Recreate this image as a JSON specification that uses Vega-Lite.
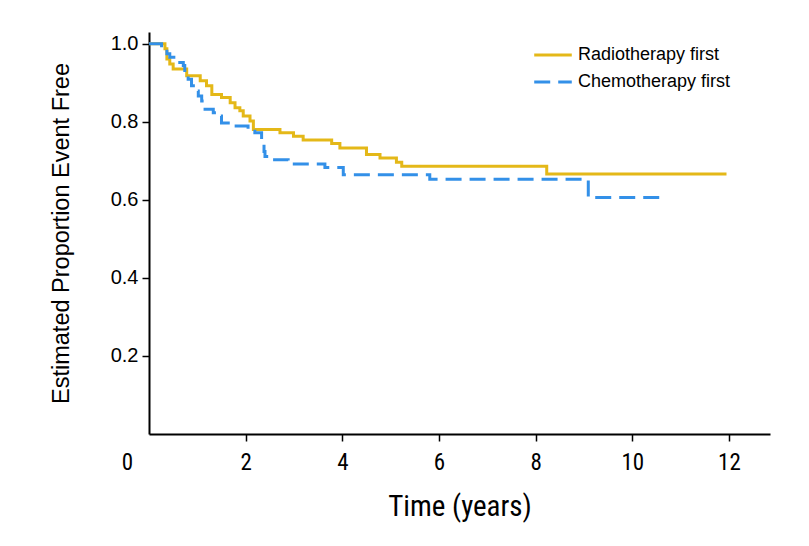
{
  "$schema": "https://vega.github.io/schema/vega-lite/v6.json",
  "width": 621,
  "height": 402,
  "autosize": {"type": "none"},
  "padding": {"left": 149, "top": 32, "right": 39, "bottom": 112},
  "background": "white",
  "config": {"view": {"stroke": null}},
  "data": {
    "values": [
      {"group": "Radiotherapy first", "t": 0, "s": 1.0},
      {"group": "Radiotherapy first", "t": 0.33, "s": 0.987},
      {"group": "Radiotherapy first", "t": 0.37, "s": 0.961},
      {"group": "Radiotherapy first", "t": 0.43, "s": 0.948},
      {"group": "Radiotherapy first", "t": 0.50, "s": 0.935},
      {"group": "Radiotherapy first", "t": 0.78, "s": 0.918},
      {"group": "Radiotherapy first", "t": 1.06, "s": 0.905},
      {"group": "Radiotherapy first", "t": 1.19, "s": 0.892},
      {"group": "Radiotherapy first", "t": 1.30, "s": 0.870},
      {"group": "Radiotherapy first", "t": 1.50, "s": 0.862},
      {"group": "Radiotherapy first", "t": 1.68, "s": 0.849},
      {"group": "Radiotherapy first", "t": 1.78, "s": 0.836},
      {"group": "Radiotherapy first", "t": 1.88, "s": 0.828},
      {"group": "Radiotherapy first", "t": 1.95, "s": 0.815},
      {"group": "Radiotherapy first", "t": 2.09, "s": 0.802},
      {"group": "Radiotherapy first", "t": 2.16, "s": 0.780},
      {"group": "Radiotherapy first", "t": 2.71, "s": 0.772},
      {"group": "Radiotherapy first", "t": 2.99, "s": 0.763},
      {"group": "Radiotherapy first", "t": 3.19, "s": 0.753},
      {"group": "Radiotherapy first", "t": 3.78, "s": 0.744},
      {"group": "Radiotherapy first", "t": 3.95, "s": 0.733},
      {"group": "Radiotherapy first", "t": 4.50, "s": 0.716},
      {"group": "Radiotherapy first", "t": 4.78, "s": 0.707},
      {"group": "Radiotherapy first", "t": 5.12, "s": 0.696},
      {"group": "Radiotherapy first", "t": 5.23, "s": 0.686},
      {"group": "Radiotherapy first", "t": 8.23, "s": 0.666},
      {"group": "Radiotherapy first", "t": 11.95, "s": 0.666},
      {"group": "Chemotherapy first", "t": 0, "s": 1.0},
      {"group": "Chemotherapy first", "t": 0.26, "s": 0.995},
      {"group": "Chemotherapy first", "t": 0.33, "s": 0.987},
      {"group": "Chemotherapy first", "t": 0.37, "s": 0.974},
      {"group": "Chemotherapy first", "t": 0.43, "s": 0.965},
      {"group": "Chemotherapy first", "t": 0.57, "s": 0.952},
      {"group": "Chemotherapy first", "t": 0.71, "s": 0.944},
      {"group": "Chemotherapy first", "t": 0.74, "s": 0.922},
      {"group": "Chemotherapy first", "t": 0.81, "s": 0.909},
      {"group": "Chemotherapy first", "t": 0.88, "s": 0.892},
      {"group": "Chemotherapy first", "t": 0.95, "s": 0.879},
      {"group": "Chemotherapy first", "t": 1.02, "s": 0.866},
      {"group": "Chemotherapy first", "t": 1.09, "s": 0.853},
      {"group": "Chemotherapy first", "t": 1.16, "s": 0.832},
      {"group": "Chemotherapy first", "t": 1.33, "s": 0.823},
      {"group": "Chemotherapy first", "t": 1.43, "s": 0.815},
      {"group": "Chemotherapy first", "t": 1.50, "s": 0.797},
      {"group": "Chemotherapy first", "t": 1.64, "s": 0.789},
      {"group": "Chemotherapy first", "t": 2.05, "s": 0.780},
      {"group": "Chemotherapy first", "t": 2.19, "s": 0.772},
      {"group": "Chemotherapy first", "t": 2.33, "s": 0.754},
      {"group": "Chemotherapy first", "t": 2.38, "s": 0.724},
      {"group": "Chemotherapy first", "t": 2.40, "s": 0.711},
      {"group": "Chemotherapy first", "t": 2.50, "s": 0.703},
      {"group": "Chemotherapy first", "t": 2.88, "s": 0.692},
      {"group": "Chemotherapy first", "t": 3.64, "s": 0.683},
      {"group": "Chemotherapy first", "t": 4.02, "s": 0.664},
      {"group": "Chemotherapy first", "t": 5.81, "s": 0.653},
      {"group": "Chemotherapy first", "t": 9.09, "s": 0.606},
      {"group": "Chemotherapy first", "t": 10.71, "s": 0.606}
    ]
  },
  "mark": {"type": "line", "interpolate": "step-after", "strokeWidth": 3, "clip": true},
  "encoding": {
    "x": {
      "field": "t", "type": "quantitative",
      "scale": {"domain": [0, 12.85], "nice": false, "zero": false},
      "axis": {
        "title": "Time (years)",
        "values": [0, 2, 4, 6, 8, 10, 12],
        "format": "d",
        "grid": false,
        "domainColor": "black", "domainWidth": 2,
        "tickColor": {"condition": {"test": "datum.value === 0", "value": "transparent"}, "value": "black"},
        "tickWidth": 1.5, "tickSize": 7,
        "labelFont": "Liberation Sans Narrow, Roboto Condensed, DejaVu Sans Condensed, Roboto, sans-serif",
        "labelFontSize": 23, "labelColor": "black",
        "labelPadding": 10,
        "labelFlush": false,
        "labelOffset": {"condition": {"test": "datum.value === 0", "value": -22}, "value": 0},
        "titleFont": "Liberation Sans Narrow, Roboto Condensed, DejaVu Sans Condensed, Roboto, sans-serif",
        "titleFontSize": 29, "titleFontWeight": "normal", "titleColor": "black",
        "titlePadding": 18
      }
    },
    "y": {
      "field": "s", "type": "quantitative",
      "scale": {"domain": [0, 1.03], "nice": false, "zero": false},
      "axis": {
        "title": "Estimated Proportion Event Free",
        "values": [0.2, 0.4, 0.6, 0.8, 1.0],
        "format": ".1f",
        "grid": false,
        "domainColor": "black", "domainWidth": 2,
        "tickColor": "black", "tickWidth": 1.5, "tickSize": 7,
        "labelFont": "Liberation Sans", "labelFontSize": 20, "labelColor": "black",
        "labelPadding": 4,
        "labelFlush": false,
        "titleFont": "Liberation Sans", "titleFontSize": 23.5, "titleFontWeight": "normal", "titleColor": "black",
        "titlePadding": 37
      }
    },
    "color": {
      "field": "group", "type": "nominal",
      "scale": {"domain": ["Radiotherapy first", "Chemotherapy first"], "range": ["#E4B818", "#3390E8"]},
      "legend": {
        "title": null,
        "orient": "none",
        "legendX": 389,
        "legendY": 8,
        "symbolType": "M-1.4,0L1.4,0",
        "symbolSize": 720,
        "symbolStrokeWidth": 3,
        "labelFont": "Liberation Sans", "labelFontSize": 18, "labelColor": "black",
        "labelOffset": 10,
        "rowPadding": 3
      }
    },
    "strokeDash": {
      "field": "group", "type": "nominal",
      "scale": {"domain": ["Radiotherapy first", "Chemotherapy first"], "range": [[1, 0], [16, 8]]},
      "legend": null
    }
  }
}
